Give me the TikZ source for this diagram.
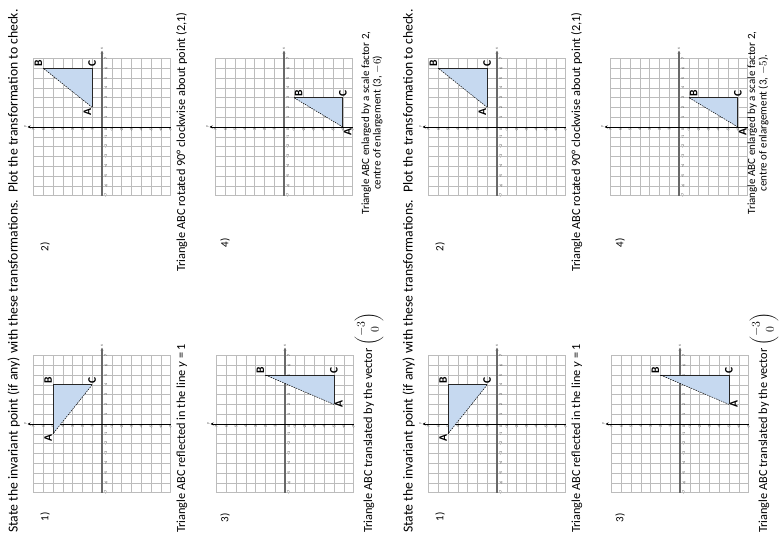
\documentclass[tikz,border=0pt]{standalone}
\usepackage{fontspec}
\setmainfont{Carlito}
\usepackage{amsmath}
\usetikzlibrary{arrows.meta}

\definecolor{shadeblue}{RGB}{198,217,240}
\definecolor{gridgrey}{RGB}{188,188,188}
\definecolor{axisgrey}{RGB}{105,105,105}

\newcommand{\axesgrid}{%
	\draw[gridline] (-7,-7) grid (7,7);
	\draw[xaxis] (-7,0) -- (7.8,0) node[ticknum,right] (xlab) {x};
	\draw[yaxis] (0,-7) -- (0,7.6) node[ticknum,above] (ylab) {y};
	\foreach \i in {-7,...,7}
	{
		\ifnum \i=0
		\node[ticknum] (o) at (-0.3,-0.4) {0};
		\else
		\node[ticknum] (xn-\i) at (\i,-0.4) {\i};
		\node[ticknum] (yn-\i) at (-0.3,\i) {\i};
		\fi
	}%
}

\begin{document}
\begin{tikzpicture}
	[   x=1pt,y=1pt,
	    gridline/.style={draw=gridgrey,line width=0.4pt,step=1},
	    xaxis/.style={draw=axisgrey,line width=1.5pt,-{Stealth[length=3pt,width=3pt]}},
	    yaxis/.style={draw=black,line width=0.7pt,-{Stealth[length=3pt,width=3pt]}},
	    ticknum/.style={font=\fontsize{4}{4}\selectfont,text=black!75,inner sep=0.4pt},
	    ptlabel/.style={font=\fontsize{11.5}{11.5}\selectfont\bfseries,inner sep=1pt},
	    caption/.style={font=\fontsize{12.3}{14}\selectfont,anchor=base west,inner sep=0pt},
	    qnum/.style={font=\fontsize{11}{11.5}\selectfont,inner sep=0pt},
	]
	\tikzset{shaded tri/.style={fill=shadeblue},
		edge/.style={draw=black!85,line width=0.8pt},
		dashed edge/.style={draw=black,line width=0.5pt,dash pattern=on 1.5pt off 1pt}}
	\useasboundingbox (0,0) rectangle (780,540);
	\begin{scope}[rotate=90,transform shape]
	\foreach \s/\cen/\cq in {0/{(3, $-6$)}/-372,1/{(3, $-5$).}/-363}
	{
		\begin{scope}[yshift=-\s*395pt]
		\node[caption,font=\fontsize{13.7}{15}\selectfont] (title-\s) at (7,-17.5) {State the invariant point (if any) with these transformations.~ Plot the transformation to check.};
		\node[qnum] (q1-\s) at (23,-45) {1)};
		\node[qnum] (q2-\s) at (293,-45) {2)};
		\node[qnum] (q3-\s) at (22,-225) {3)};
		\node[qnum] (q4-\s) at (297,-225) {4)};
		
		% reflection in y = 1
		\begin{scope}[shift={(116,-102)},x=9.8pt,y=9.8pt]
			\axesgrid
			\coordinate (A) at (-1,5);
			\coordinate (B) at (4,5);
			\coordinate (C) at (4,1);
			\fill[shaded tri] (A) -- (B) -- (C) -- cycle;
			\path[edge] (A) -- (B) -- (C);
			\path[dashed edge] (C) -- (A);
			\node[ptlabel,above left] (a1) at (A) {A};
			\node[ptlabel,above right] (b1) at (B) {B};
			\node[ptlabel,right] (c1) at (C) {C};
		\end{scope}
		\node[caption] (cap1-\s) at (7,-185) {Triangle ABC reflected in the line \textit{y} = 1};
		
		% rotation about (2,1)
		\begin{scope}[shift={(413,-102)},x=9.8pt,y=9.8pt]
			\axesgrid
			\coordinate (A) at (2,1);
			\coordinate (B) at (6,6);
			\coordinate (C) at (6,1);
			\fill[shaded tri] (A) -- (B) -- (C) -- cycle;
			\path[edge] (B) -- (C) -- (A);
			\path[dashed edge] (A) -- (B);
			\node[ptlabel,above left] (a2) at (A) {A};
			\node[ptlabel,above right] (b2) at (B) {B};
			\node[ptlabel,right] (c2) at (C) {C};
		\end{scope}
		\node[caption] (cap2-\s) at (268,-185) {Triangle ABC rotated 90° clockwise about point (2,1)};
		
		% translation
		\begin{scope}[shift={(116,-285)},x=9.8pt,y=9.8pt]
			\axesgrid
			\coordinate (A) at (2,-5);
			\coordinate (B) at (5,2);
			\coordinate (C) at (5,-5);
			\fill[shaded tri] (A) -- (B) -- (C) -- cycle;
			\path[edge] (B) -- (C) -- (A);
			\path[dashed edge] (A) -- (B);
			\node[ptlabel,below] (a3) at (A) {A};
			\node[ptlabel,above right] (b3) at (B) {B};
			\node[ptlabel,right] (c3) at (C) {C};
		\end{scope}
		\node[caption] (cap3-\s) at (7,-372) {Triangle ABC translated by the vector $\begin{pmatrix}-3\\0\end{pmatrix}$};
		
		% enlargement
		\begin{scope}[shift={(413,-284)},x=9.8pt,y=9.8pt]
			\axesgrid
			\coordinate (A) at (0,-6);
			\coordinate (B) at (3,-1);
			\coordinate (C) at (3,-6);
			\fill[shaded tri] (A) -- (B) -- (C) -- cycle;
			\path[edge] (B) -- (C) -- (A);
			\path[dashed edge] (A) -- (B);
			\node[ptlabel,below left] (a4) at (A) {A};
			\node[ptlabel,below right] (b4) at (B) {B};
			\node[ptlabel,right] (c4) at (C) {C};
		\end{scope}
		\node[qnum,align=center] (cap4-\s) at (417,\cq) {Triangle ABC enlarged by a scale factor 2,\\centre of enlargement \cen};
		\end{scope}
	}
	\end{scope}
\end{tikzpicture}
\end{document}
